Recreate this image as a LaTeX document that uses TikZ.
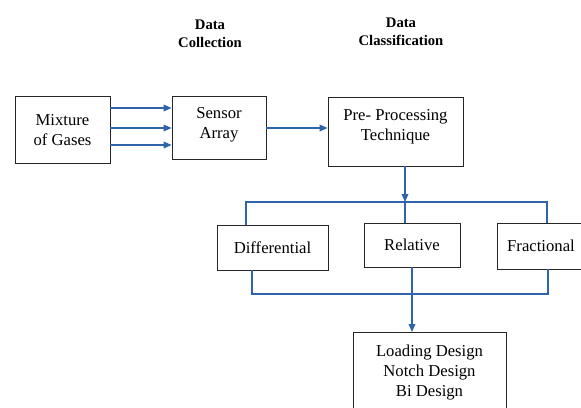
\documentclass[tikz,border=0pt]{standalone}
\usepackage{fontspec}
\setmainfont{Liberation Serif}
\usetikzlibrary{arrows.meta}
\definecolor{flowblue}{RGB}{46,100,168}

\begin{document}
\begin{tikzpicture}[x=0.75pt, y=-0.75pt, >={Triangle[length=6pt,width=5pt]},
	box/.style={draw=black!85, line width=0.6pt, inner sep=0pt, align=center,
		font=\fontsize{12.5}{15}\selectfont},
	head/.style={align=center, font=\fontsize{11}{13.5}\selectfont\bfseries},
	line/.style={draw=flowblue, line width=0.9pt},
	flow/.style={line, ->}]
	\clip (0,0) rectangle (581,407);

	% titles
	\node[head] (collect) at (210,34) {Data\\Collection};
	\node[head] (classify) at (401,32) {Data\\Classification};

	% boxes
	\node[box, minimum width=71.25pt, minimum height=50.25pt] (mix) at (62.5,130) {Mixture\\of Gases};
	\node[box, minimum width=70.5pt, minimum height=47.25pt, text depth=7.5pt] (sensor) at (219,128) {Sensor\\Array};
	\node[box, minimum width=101.25pt, minimum height=51.75pt, text depth=10pt] (pre) at (395.5,131.5) {Pre- Processing\\Technique};
	\node[box, minimum width=83.25pt, minimum height=33.75pt] (diff) at (272.5,247.5) {Differential};
	\node[box, minimum width=72pt, minimum height=33pt] (rel) at (412,245) {Relative};
	\node[box, minimum width=66pt, minimum height=34.5pt] (frac) at (541,246) {Fractional};
	\node[box, anchor=north, minimum width=114.75pt, minimum height=66pt, text depth=8pt]
		(load) at (429.5,332) {Loading Design\\Notch Design\\Bi Design};

	% gases into the sensors
	\coordinate (g1) at ([yshift=16.5pt]mix.east);
	\coordinate (g2) at ([yshift=1.5pt]mix.east);
	\coordinate (g3) at ([yshift=-11.25pt]mix.east);
	\draw[flow] (g1) -- (g1 -| sensor.west);
	\draw[flow] (g2) -- (g2 -| sensor.west);
	\draw[flow] (g3) -- (g3 -| sensor.west);
	\draw[flow] (sensor.east) -- (sensor.east -| pre.west);

	% split
	\coordinate (tl) at (246,202);
	\coordinate (tm) at (405,202);
	\coordinate (tr) at (547,202);
	\draw[flow] (tm |- pre.south) -- (tm);
	\draw[line] (tl |- diff.north) -- (tl) -- (tr) -- (tr |- frac.north);
	\draw[line] (tm) -- (tm |- rel.north);

	% join
	\coordinate (bl) at (252,294);
	\coordinate (br) at (548,294);
	\draw[line] (bl |- diff.south) -- (bl) -- (br) -- (br |- frac.south);
	\draw[flow] (rel.south) -- (rel.south |- load.north);
\end{tikzpicture}
\end{document}
